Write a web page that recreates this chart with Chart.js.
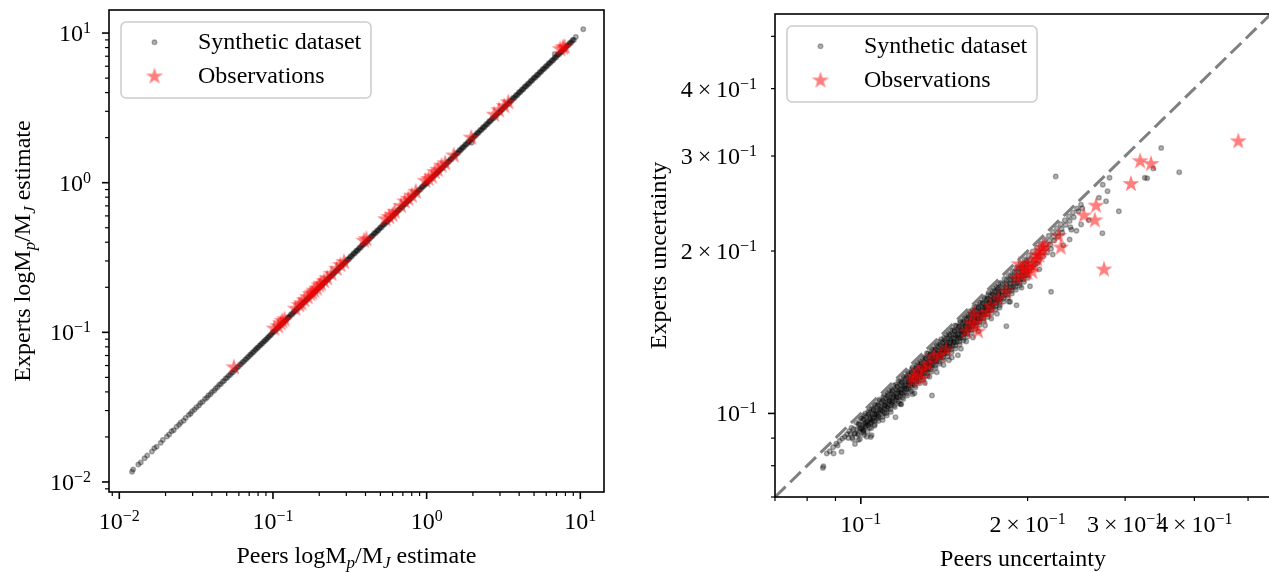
<!DOCTYPE html>
<html>
<head>
<meta charset="utf-8">
<script src="https://cdn.jsdelivr.net/npm/chart.js@4.4.1/dist/chart.umd.min.js"></script>
<style>
html,body{margin:0;padding:0;background:#fff;overflow:hidden;width:1269px;height:572px;}
canvas{position:absolute;top:0;}
#left{left:0;}
#right{left:640px;}
</style>
</head>
<body>
<canvas id="left" width="620" height="572"></canvas>
<canvas id="right" width="631" height="572"></canvas>
<script>
const FONT = 'Liberation Serif';

// ---- left panel: log Mp/MJ estimates ----
const massRange = [0.00857, 14.26];
const massMajorTicks = [0.01, 0.1, 1, 10];
const massMajorLabels = ['10^−2', '10^−1', '10^0', '10^1'];
const massMinorTicks = [0.009, 0.02, 0.03, 0.04, 0.05, 0.06, 0.07, 0.08, 0.09,
  0.2, 0.3, 0.4, 0.5, 0.6, 0.7, 0.8, 0.9, 2, 3, 4, 5, 6, 7, 8, 9];

const synthMass = [
[0.0121,0.0117],[0.0123,0.0121],[0.0133,0.0131],[0.0138,0.0135],[0.0146,0.0144],[0.0152,0.0150],[0.0163,0.0160],[0.0169,0.0168],
[0.0175,0.0172],[0.0186,0.0183],[0.0192,0.0191],[0.0204,0.0201],[0.0211,0.0208],[0.0219,0.0218],[0.0226,0.0222],[0.0236,0.0234],
[0.0245,0.0241],[0.0251,0.0250],[0.0262,0.0257],[0.0270,0.0268],[0.0283,0.0280],[0.0291,0.0286],[0.0298,0.0297],[0.0309,0.0305],
[0.0318,0.0316],[0.0330,0.0325],[0.0338,0.0337],[0.0349,0.0344],[0.0361,0.0358],[0.0372,0.0366],[0.0380,0.0379],[0.0392,0.0386],
[0.0401,0.0399],[0.0415,0.0409],[0.0424,0.0422],[0.0436,0.0431],[0.0447,0.0446],[0.0458,0.0452],[0.0470,0.0468],[0.0481,0.0475],
[0.0492,0.0491],[0.0503,0.0497],[0.0515,0.0513],[0.0527,0.0520],[0.0536,0.0535],[0.0549,0.0542],[0.0561,0.0559],[0.0572,0.0566],
[0.0585,0.0583],[0.0597,0.0590],[0.0609,0.0607],[0.0622,0.0614],[0.0633,0.0632],[0.0647,0.0639],[0.0659,0.0657],[0.0672,0.0664],
[0.0684,0.0682],[0.0697,0.0690],[0.0710,0.0708],[0.0722,0.0714],[0.0735,0.0733],[0.0748,0.0740],[0.0762,0.0760],[0.0775,0.0767],
[0.0787,0.0785],[0.0801,0.0792],[0.0815,0.0813],[0.0829,0.0820],[0.0842,0.0840],[0.0856,0.0847],[0.0870,0.0868],[0.0885,0.0876],
[0.0899,0.0897],[0.0914,0.0904],[0.0928,0.0926],[0.0943,0.0934],[0.0958,0.0956],[0.0973,0.0963],[0.0988,0.0986],
[0.1000,0.1008],[0.1016,0.1004],[0.1032,0.1030],[0.1050,0.1058],[0.1067,0.1054],[0.1084,0.1081],[0.1100,0.1109],[0.1118,0.1104],
[0.1135,0.1133],[0.1150,0.1159],[0.1168,0.1155],[0.1187,0.1184],[0.1200,0.1210],[0.1219,0.1205],[0.1238,0.1236],[0.1250,0.1260],
[0.1270,0.1255],[0.1290,0.1287],[0.1310,0.1320],[0.1331,0.1315],[0.1352,0.1349],[0.1370,0.1381],[0.1392,0.1375],[0.1414,0.1411],
[0.1430,0.1441],[0.1453,0.1436],[0.1476,0.1473],[0.1500,0.1512],[0.1524,0.1506],[0.1548,0.1545],[0.1570,0.1583],[0.1595,0.1576],
[0.1620,0.1617],[0.1640,0.1653],[0.1666,0.1647],[0.1692,0.1689],[0.1710,0.1724],[0.1737,0.1717],[0.1765,0.1761],[0.1790,0.1804],
[0.1819,0.1797],[0.1847,0.1844],[0.1870,0.1885],[0.1900,0.1877],[0.1930,0.1926],[0.1960,0.1976],[0.1991,0.1968],[0.2023,0.2019],
[0.2050,0.2066],[0.2083,0.2058],[0.2116,0.2112],[0.2140,0.2157],[0.2174,0.2149],[0.2208,0.2204],[0.2240,0.2258],[0.2276,0.2249],
[0.2312,0.2307],[0.2340,0.2359],[0.2377,0.2349],[0.2415,0.2410],[0.2450,0.2470],[0.2489,0.2460],[0.2528,0.2524],[0.2560,0.2580],
[0.2601,0.2570],[0.2642,0.2637],[0.2680,0.2701],[0.2723,0.2691],[0.2766,0.2760],[0.2800,0.2822],[0.2845,0.2811],[0.2890,0.2884],
[0.2930,0.2953],[0.2977,0.2942],[0.3024,0.3018],[0.3060,0.3084],[0.3109,0.3072],[0.3158,0.3152],[0.3200,0.3226],[0.3251,0.3213],
[0.3302,0.3296],[0.3350,0.3377],[0.3404,0.3363],[0.3457,0.3451],[0.3500,0.3528],[0.3556,0.3514],[0.3612,0.3605],[0.3660,0.3689],
[0.3719,0.3675],[0.3777,0.3770],[0.3830,0.3861],[0.3891,0.3845],[0.3953,0.3945],[0.4000,0.4032],[0.4064,0.4016],[0.4128,0.4120],
[0.4180,0.4213],[0.4247,0.4197],[0.4314,0.4305],[0.4370,0.4405],[0.4440,0.4387],[0.4510,0.4501],[0.4570,0.4607],[0.4643,0.4588],
[0.4716,0.4707],[0.4780,0.4818],[0.4856,0.4799],[0.4933,0.4923],[0.5000,0.5040],[0.5080,0.5020],[0.5160,0.5150],[0.5230,0.5272],
[0.5314,0.5251],[0.5397,0.5387],[0.5470,0.5514],[0.5558,0.5492],[0.5645,0.5634],[0.5720,0.5766],[0.5812,0.5743],[0.5903,0.5892],
[0.5980,0.6028],[0.6076,0.6004],[0.6171,0.6159],[0.6250,0.6300],[0.6350,0.6275],[0.6450,0.6438],[0.6540,0.6592],[0.6645,0.6566],
[0.6749,0.6736],[0.6840,0.6895],[0.6949,0.6867],[0.7059,0.7045],[0.7150,0.7207],[0.7264,0.7179],[0.7379,0.7365],[0.7480,0.7540],
[0.7600,0.7510],[0.7719,0.7704],[0.7820,0.7883],[0.7945,0.7851],[0.8070,0.8055],[0.8180,0.8245],[0.8311,0.8213],[0.8442,0.8425],
[0.8550,0.8618],[0.8687,0.8584],[0.8824,0.8807],[0.8940,0.9012],[0.9083,0.8976],[0.9226,0.9208],[0.9350,0.9425],[0.9500,0.9387],
[0.9649,0.9631],[0.9780,0.9858],[0.9936,0.9819],
[1.000,1.008],[1.016,1.004],[1.032,1.030],[1.050,1.058],[1.067,1.054],[1.084,1.081],[1.100,1.109],[1.118,1.104],
[1.135,1.133],[1.150,1.159],[1.168,1.155],[1.187,1.184],[1.200,1.210],[1.219,1.205],[1.238,1.236],[1.250,1.260],
[1.270,1.255],[1.290,1.287],[1.310,1.320],[1.331,1.315],[1.352,1.349],[1.370,1.381],[1.392,1.375],[1.414,1.411],
[1.430,1.441],[1.453,1.436],[1.476,1.473],[1.500,1.512],[1.524,1.506],[1.548,1.545],[1.570,1.583],[1.595,1.576],
[1.620,1.617],[1.640,1.653],[1.666,1.647],[1.692,1.689],[1.710,1.724],[1.737,1.717],[1.765,1.761],[1.790,1.804],
[1.819,1.797],[1.847,1.844],[1.870,1.885],[1.900,1.877],[1.930,1.926],[1.960,1.976],[1.991,1.968],[2.023,2.019],
[2.050,2.066],[2.083,2.058],[2.116,2.112],[2.140,2.157],[2.174,2.149],[2.208,2.204],[2.240,2.258],[2.276,2.249],
[2.312,2.307],[2.340,2.359],[2.377,2.349],[2.415,2.410],[2.450,2.470],[2.489,2.460],[2.528,2.524],[2.560,2.580],
[2.601,2.570],[2.642,2.637],[2.680,2.701],[2.723,2.691],[2.766,2.760],[2.800,2.822],[2.845,2.811],[2.890,2.884],
[2.930,2.953],[2.977,2.942],[3.024,3.018],[3.060,3.084],[3.109,3.072],[3.158,3.152],[3.200,3.226],[3.251,3.213],
[3.302,3.296],[3.350,3.377],[3.404,3.363],[3.457,3.451],[3.500,3.528],[3.556,3.514],[3.612,3.605],[3.660,3.689],
[3.719,3.675],[3.777,3.770],[3.830,3.861],[3.891,3.845],[3.953,3.945],[4.000,4.032],[4.064,4.016],[4.128,4.120],
[4.180,4.213],[4.247,4.197],[4.314,4.305],[4.370,4.405],[4.440,4.387],[4.510,4.501],[4.570,4.607],[4.643,4.588],
[4.716,4.707],[4.780,4.818],[4.856,4.799],[4.933,4.923],[5.000,5.040],[5.080,5.020],[5.160,5.150],[5.230,5.272],
[5.314,5.251],[5.397,5.387],[5.470,5.514],[5.558,5.492],[5.645,5.634],[5.720,5.766],[5.812,5.743],[5.903,5.892],
[5.980,6.028],[6.076,6.004],[6.171,6.159],[6.250,6.300],[6.350,6.275],[6.450,6.438],[6.540,6.592],[6.645,6.566],
[6.749,6.736],[6.840,6.895],[6.949,6.867],[7.059,7.045],[7.150,7.207],[7.264,7.179],[7.379,7.365],[7.480,7.540],
[7.600,7.510],[7.719,7.704],[7.820,7.883],[7.945,7.851],[8.070,8.055],[8.180,8.245],[8.311,8.213],[8.442,8.425],
[8.550,8.618],[8.687,8.584],[8.824,8.807],[8.940,9.012],[9.083,8.976],[9.350,9.430],[6.820,7.250],[1.960,1.850],
[10.45,10.62]
];

const obsMass = [
[0.0557,0.0584],
[0.1020,0.1060],[0.1080,0.1100],[0.1120,0.1150],[0.1150,0.1190],[0.1190,0.1220],
[0.1400,0.1440],[0.1480,0.1520],[0.1530,0.1560],[0.1600,0.1640],[0.1680,0.1720],[0.1750,0.1800],[0.1800,0.1840],
[0.1850,0.1900],[0.1930,0.1960],[0.2000,0.2060],[0.2050,0.2110],[0.2150,0.2200],[0.2250,0.2300],[0.2400,0.2460],
[0.2600,0.2660],[0.2750,0.2820],[0.2900,0.2950],
[0.3900,0.4100],[0.4050,0.4200],
[0.5400,0.5700],[0.5700,0.5900],[0.6000,0.6100],[0.6200,0.6400],
[0.6800,0.7000],[0.7200,0.7500],[0.7600,0.7800],[0.8000,0.8200],[0.8500,0.8700],
[0.9800,1.0300],[1.0300,1.0600],[1.0800,1.1000],[1.1300,1.1800],[1.1800,1.2200],[1.2500,1.3000],[1.3200,1.3500],[1.5000,1.5200],
[1.9500,2.0000],
[2.7500,2.8500],[2.9500,3.0500],[3.2000,3.2500],[3.4000,3.4500],
[7.4000,7.8000],[7.7000,8.0000],[7.9000,8.1000]
];

// ---- right panel: uncertainties ----
const uncRange = [0.07, 0.55];
const uncMajorTicks = [0.1];
const uncLabelTicks = [0.1, 0.2, 0.3, 0.4];
const uncLabels = ['10^−1', '2\u2009×\u200910^−1', '3\u2009×\u200910^−1', '4\u2009×\u200910^−1'];
const uncMinorTicks = [0.07, 0.08, 0.09, 0.2, 0.3, 0.4, 0.5];
const diagonal = [0.07, 0.55];

const synthUnc = [
[0.0854,0.0792],[0.0856,0.0798],[0.0893,0.0843],[0.0923,0.0849],[0.0868,0.0843],[0.0879,0.0851],[0.0891,0.0866],[0.0903,0.0879],
[0.0908,0.0872],[0.0916,0.0890],[0.0926,0.0899],[0.0935,0.0905],[0.0944,0.0915],[0.0953,0.0927],[0.0949,0.0900],
[0.0962,0.0941],[0.0958,0.0918],[0.0965,0.0902],
[0.0981,0.0962],[0.0984,0.0935],[0.0977,0.0918],[0.0989,0.0893],
[0.1002,0.0981],[0.0998,0.0953],[0.1006,0.0939],[0.1010,0.0921],
[0.1014,0.0991],[0.1018,0.0962],[0.1021,0.0948],[0.1012,0.0927],[0.1025,0.0905],
[0.1031,0.1007],[0.1035,0.0985],[0.1028,0.0965],[0.1040,0.0958],[0.1037,0.0941],
[0.1046,0.1022],[0.1049,0.0998],[0.1052,0.0981],[0.1044,0.0962],[0.1058,0.0949],
[0.1061,0.1037],[0.1065,0.1012],[0.1068,0.0999],[0.1072,0.0978],[0.1060,0.0968],
[0.1079,0.1055],[0.1083,0.1031],[0.1087,0.1017],[0.1091,0.0996],[0.1076,0.0985],[0.1095,0.0972],
[0.1098,0.1073],[0.1102,0.1050],[0.1106,0.1035],[0.1110,0.1016],[0.1104,0.1003],[0.1114,0.0991],
[0.1117,0.1092],[0.1121,0.1068],[0.1126,0.1054],[0.1129,0.1034],[0.1119,0.1022],[0.1133,0.1006],
[0.1136,0.1110],[0.1140,0.1087],[0.1145,0.1071],[0.1149,0.1052],[0.1138,0.1039],[0.1152,0.1028],
[0.1156,0.1130],[0.1160,0.1105],[0.1165,0.1091],[0.1169,0.1070],[0.1158,0.1059],[0.1173,0.1043],
[0.1176,0.1149],[0.1180,0.1125],[0.1185,0.1109],[0.1189,0.1089],[0.1178,0.1076],[0.1193,0.1063],[0.1183,0.1040],
[0.1196,0.1169],[0.1200,0.1144],[0.1205,0.1128],[0.1209,0.1107],[0.1198,0.1094],[0.1213,0.1079],
[0.1216,0.1188],[0.1221,0.1164],[0.1226,0.1148],[0.1230,0.1126],[0.1219,0.1112],[0.1234,0.1098],[0.1240,0.1085],
[0.1237,0.1209],[0.1242,0.1184],[0.1247,0.1167],[0.1251,0.1145],[0.1240,0.1132],[0.1255,0.1118],
[0.1258,0.1229],[0.1263,0.1204],[0.1268,0.1187],[0.1272,0.1165],[0.1261,0.1151],[0.1277,0.1137],
[0.1279,0.1250],[0.1284,0.1224],[0.1289,0.1206],[0.1294,0.1184],[0.1283,0.1171],[0.1298,0.1156],[0.1305,0.1139],
[0.1301,0.1271],[0.1306,0.1245],[0.1311,0.1227],[0.1316,0.1204],[0.1304,0.1190],[0.1320,0.1175],
[0.1323,0.1293],[0.1328,0.1266],[0.1333,0.1248],[0.1338,0.1225],[0.1326,0.1210],[0.1342,0.1195],
[0.1345,0.1314],[0.1350,0.1287],[0.1355,0.1268],[0.1360,0.1245],[0.1348,0.1231],[0.1365,0.1215],[0.1371,0.1192],
[0.1368,0.1337],[0.1373,0.1309],[0.1378,0.1290],[0.1383,0.1266],[0.1371,0.1251],[0.1388,0.1236],
[0.1391,0.1359],[0.1396,0.1331],[0.1401,0.1311],[0.1406,0.1287],[0.1394,0.1272],[0.1411,0.1256],
[0.1414,0.1382],[0.1419,0.1353],[0.1424,0.1333],[0.1429,0.1308],[0.1417,0.1293],[0.1434,0.1277],[0.1442,0.1255],
[0.1438,0.1405],[0.1443,0.1376],[0.1448,0.1355],[0.1453,0.1330],[0.1441,0.1315],[0.1459,0.1298],
[0.1462,0.1429],[0.1467,0.1399],[0.1472,0.1378],[0.1477,0.1352],[0.1465,0.1337],[0.1483,0.1320],
[0.1487,0.1453],[0.1492,0.1423],[0.1497,0.1401],[0.1502,0.1375],[0.1490,0.1360],[0.1508,0.1342],[0.1516,0.1318],
[0.1512,0.1477],[0.1517,0.1447],[0.1522,0.1424],[0.1527,0.1398],[0.1515,0.1383],[0.1533,0.1365],
[0.1537,0.1502],[0.1542,0.1471],[0.1548,0.1449],[0.1553,0.1422],[0.1540,0.1406],[0.1559,0.1388],
[0.1563,0.1527],[0.1568,0.1496],[0.1574,0.1473],[0.1579,0.1446],[0.1566,0.1430],[0.1585,0.1411],[0.1594,0.1383],
[0.1589,0.1553],[0.1595,0.1521],[0.1600,0.1498],[0.1606,0.1470],[0.1592,0.1454],[0.1612,0.1435],
[0.1616,0.1579],[0.1621,0.1546],[0.1627,0.1523],[0.1633,0.1495],[0.1619,0.1478],[0.1639,0.1459],
[0.1643,0.1606],[0.1649,0.1573],[0.1654,0.1548],[0.1660,0.1520],[0.1646,0.1503],[0.1667,0.1484],[0.1676,0.1455],
[0.1671,0.1633],[0.1677,0.1599],[0.1682,0.1574],[0.1688,0.1546],[0.1674,0.1528],[0.1695,0.1509],
[0.1699,0.1660],[0.1705,0.1626],[0.1711,0.1601],[0.1717,0.1572],[0.1702,0.1554],[0.1723,0.1534],
[0.1728,0.1688],[0.1734,0.1654],[0.1740,0.1628],[0.1746,0.1598],[0.1731,0.1580],[0.1752,0.1560],[0.1761,0.1530],
[0.1757,0.1717],[0.1763,0.1682],[0.1769,0.1655],[0.1775,0.1625],[0.1760,0.1607],[0.1782,0.1586],
[0.1787,0.1746],[0.1793,0.1710],[0.1799,0.1683],[0.1805,0.1653],[0.1790,0.1634],[0.1812,0.1613],
[0.1817,0.1776],[0.1823,0.1739],[0.1829,0.1712],[0.1836,0.1681],[0.1820,0.1662],[0.1843,0.1640],[0.1851,0.1611],
[0.1848,0.1806],[0.1854,0.1769],[0.1860,0.1741],[0.1867,0.1709],[0.1851,0.1690],[0.1874,0.1668],
[0.1879,0.1836],[0.1885,0.1798],[0.1892,0.1770],[0.1898,0.1738],[0.1882,0.1718],[0.1905,0.1696],
[0.1911,0.1867],[0.1917,0.1829],[0.1924,0.1800],[0.1930,0.1767],[0.1914,0.1747],[0.1937,0.1724],
[0.1943,0.1899],[0.1949,0.1859],[0.1956,0.1830],[0.1962,0.1797],[0.1946,0.1776],[0.1970,0.1753],
[0.1976,0.1931],[0.1982,0.1891],[0.1989,0.1861],[0.1995,0.1827],[0.1979,0.1806],[0.2003,0.1783],
[0.2009,0.1963],[0.2016,0.1923],[0.2022,0.1892],[0.2029,0.1858],[0.2012,0.1836],
[0.2043,0.1996],[0.2050,0.1955],[0.2056,0.1924],[0.2063,0.1889],[0.2046,0.1867],
[0.2078,0.2030],[0.2084,0.1988],[0.2091,0.1957],[0.2098,0.1921],[0.2081,0.1898],
[0.2113,0.2064],[0.2119,0.2022],[0.2126,0.1990],[0.2133,0.1953],
[0.2148,0.2099],[0.2155,0.2056],[0.2162,0.2023],[0.2169,0.1986],
[0.2184,0.2134],[0.2191,0.2090],[0.2198,0.2057],[0.2205,0.2019],
[0.2221,0.2170],[0.2228,0.2125],[0.2235,0.2092],
[0.2258,0.2206],[0.2266,0.2161],[0.2273,0.2127],
[0.2296,0.2243],[0.2304,0.2198],[0.2311,0.2163],
[0.2335,0.2281],[0.2343,0.2235],[0.2374,0.2319],[0.2382,0.2273],[0.2390,0.2214],
[0.2414,0.2358],[0.2423,0.2311],[0.2455,0.2397],[0.2470,0.2370],[0.2497,0.2437],[0.2510,0.2400],
[0.0970,0.0936],[0.0974,0.0917],[0.0967,0.0897],[0.0976,0.0878],
[0.0990,0.0955],[0.0994,0.0936],[0.0987,0.0916],[0.0996,0.0896],
[0.1008,0.0973],[0.1012,0.0953],[0.1005,0.0932],[0.1014,0.0912],
[0.1022,0.0986],[0.1026,0.0966],[0.1019,0.0945],[0.1028,0.0925],
[0.1038,0.1002],[0.1042,0.0981],[0.1035,0.0960],[0.1044,0.0939],
[0.1054,0.1017],[0.1058,0.0996],[0.1051,0.0975],[0.1060,0.0954],
[0.1070,0.1033],[0.1074,0.1011],[0.1067,0.0990],[0.1076,0.0968],
[0.1088,0.1050],[0.1092,0.1028],[0.1085,0.1006],[0.1094,0.0985],
[0.1106,0.1067],[0.1110,0.1045],[0.1103,0.1023],[0.1112,0.1001],
[0.1124,0.1085],[0.1128,0.1062],[0.1121,0.1040],[0.1130,0.1017],
[0.1142,0.1102],[0.1146,0.1079],[0.1139,0.1056],[0.1148,0.1034],
[0.1162,0.1121],[0.1166,0.1098],[0.1159,0.1075],[0.1168,0.1052],
[0.1182,0.1141],[0.1186,0.1117],[0.1179,0.1093],[0.1188,0.1070],
[0.1202,0.1160],[0.1206,0.1136],[0.1199,0.1112],[0.1208,0.1088],
[0.1222,0.1179],[0.1226,0.1155],[0.1219,0.1130],[0.1228,0.1106],
[0.1244,0.1200],[0.1248,0.1176],[0.1241,0.1151],[0.1250,0.1126],
[0.1266,0.1222],[0.1270,0.1196],[0.1263,0.1171],[0.1272,0.1146],
[0.1288,0.1243],[0.1292,0.1217],[0.1285,0.1191],[0.1294,0.1166],
[0.1310,0.1264],[0.1314,0.1238],[0.1307,0.1212],[0.1316,0.1186],
[0.1332,0.1285],[0.1336,0.1259],[0.1329,0.1232],[0.1338,0.1205],
[0.1355,0.1308],[0.1359,0.1280],[0.1352,0.1253],[0.1361,0.1226],
[0.1378,0.1330],[0.1382,0.1302],[0.1375,0.1275],[0.1384,0.1247],
[0.1402,0.1353],[0.1406,0.1325],[0.1399,0.1297],[0.1408,0.1269],
[0.1426,0.1376],[0.1430,0.1348],[0.1423,0.1319],[0.1432,0.1291],
[0.1450,0.1399],[0.1454,0.1370],[0.1447,0.1341],[0.1456,0.1312],
[0.1475,0.1423],[0.1479,0.1394],[0.1472,0.1364],[0.1481,0.1335],
[0.1500,0.1448],[0.1504,0.1418],[0.1497,0.1388],[0.1506,0.1358],
[0.1525,0.1472],[0.1529,0.1441],[0.1522,0.1411],[0.1531,0.1380],
[0.1551,0.1497],[0.1555,0.1466],[0.1548,0.1435],[0.1557,0.1404],
[0.1577,0.1522],[0.1581,0.1490],[0.1574,0.1459],[0.1583,0.1427],
[0.1604,0.1548],[0.1608,0.1516],[0.1601,0.1484],[0.1610,0.1452],
[0.1631,0.1574],[0.1635,0.1541],[0.1628,0.1509],[0.1637,0.1476],
[0.1658,0.1600],[0.1662,0.1567],[0.1655,0.1534],[0.1664,0.1500],
[0.1686,0.1627],[0.1690,0.1593],[0.1683,0.1560],[0.1692,0.1526],
[0.1714,0.1654],[0.1718,0.1620],[0.1711,0.1585],[0.1720,0.1551],
[0.1743,0.1682],[0.1747,0.1647],[0.1740,0.1612],[0.1749,0.1577],
[0.1772,0.1710],[0.1776,0.1675],[0.1769,0.1639],[0.1778,0.1604],
[0.1802,0.1739],[0.1806,0.1703],[0.1799,0.1667],[0.1808,0.1631],
[0.1832,0.1768],[0.1836,0.1731],[0.1829,0.1695],[0.1838,0.1658],
[0.1863,0.1798],[0.1867,0.1761],[0.1860,0.1723],[0.1869,0.1686],
[0.1894,0.1828],[0.1898,0.1790],[0.1891,0.1752],[0.1900,0.1714],
[0.1926,0.1859],[0.1930,0.1820],[0.1923,0.1782],[0.1932,0.1743],
[0.1958,0.1889],[0.1962,0.1850],[0.1955,0.1811],[0.1964,0.1772],
[0.1991,0.1921],[0.1995,0.1881],[0.1988,0.1842],[0.1997,0.1802],
[0.0998,0.0980],[0.0993,0.0957],[0.1000,0.0937],[0.0991,0.0913],
[0.1018,0.1000],[0.1013,0.0976],[0.1020,0.0956],[0.1011,0.0932],
[0.1038,0.1019],[0.1033,0.0996],[0.1040,0.0975],[0.1031,0.0950],
[0.1059,0.1040],[0.1054,0.1016],[0.1061,0.0995],[0.1052,0.0969],
[0.1080,0.1061],[0.1075,0.1036],[0.1082,0.1015],[0.1073,0.0989],
[0.1102,0.1083],[0.1097,0.1057],[0.1104,0.1035],[0.1095,0.1009],
[0.1124,0.1104],[0.1119,0.1078],[0.1126,0.1056],[0.1117,0.1029],
[0.1146,0.1126],[0.1141,0.1100],[0.1148,0.1077],[0.1139,0.1049],
[0.1169,0.1149],[0.1164,0.1122],[0.1171,0.1098],[0.1162,0.1070],
[0.1192,0.1171],[0.1187,0.1144],[0.1194,0.1120],[0.1185,0.1092],
[0.1216,0.1195],[0.1211,0.1167],[0.1218,0.1143],[0.1209,0.1114],
[0.1240,0.1218],[0.1235,0.1190],[0.1242,0.1165],[0.1233,0.1136],
[0.1265,0.1243],[0.1260,0.1214],[0.1267,0.1189],[0.1258,0.1159],
[0.1290,0.1268],[0.1285,0.1238],[0.1292,0.1212],[0.1283,0.1181],
[0.1316,0.1293],[0.1311,0.1263],[0.1318,0.1237],[0.1309,0.1205],
[0.1342,0.1319],[0.1337,0.1288],[0.1344,0.1261],[0.1335,0.1229],
[0.1369,0.1346],[0.1364,0.1314],[0.1371,0.1287],[0.1362,0.1254],
[0.1396,0.1372],[0.1391,0.1340],[0.1398,0.1312],[0.1389,0.1279],
[0.1424,0.1400],[0.1419,0.1367],[0.1426,0.1339],[0.1417,0.1304],
[0.1452,0.1427],[0.1447,0.1394],[0.1454,0.1365],[0.1445,0.1330],
[0.1481,0.1456],[0.1476,0.1422],[0.1483,0.1392],[0.1474,0.1357],
[0.1511,0.1485],[0.1506,0.1451],[0.1513,0.1421],[0.1504,0.1384],
[0.1541,0.1515],[0.1536,0.1480],[0.1543,0.1449],[0.1534,0.1412],
[0.1572,0.1545],[0.1567,0.1509],[0.1574,0.1478],[0.1565,0.1440],
[0.1603,0.1576],[0.1598,0.1539],[0.1605,0.1507],[0.1596,0.1469],
[0.1635,0.1608],[0.1630,0.1570],[0.1637,0.1537],[0.1628,0.1498],
[0.1668,0.1640],[0.1663,0.1602],[0.1670,0.1568],[0.1661,0.1528],
[0.1701,0.1673],[0.1696,0.1633],[0.1703,0.1600],[0.1694,0.1559],
[0.1735,0.1706],[0.1730,0.1666],[0.1737,0.1632],[0.1728,0.1590],
[0.1770,0.1740],[0.1765,0.1700],[0.1772,0.1665],[0.1763,0.1622],
[0.1042,0.0904],[0.1046,0.0911],[0.1155,0.0984],[0.1344,0.1080],[0.1497,0.1282],[0.1831,0.1451],[0.2205,0.1680],
[0.2729,0.2158],[0.2922,0.2369],[0.3756,0.2800],[0.3485,0.3104],[0.2248,0.2750],[0.3255,0.2733],[0.3372,0.2844],
[0.2811,0.2733],[0.2733,0.2655],[0.2788,0.2582],[0.2690,0.2510],[0.2771,0.2474],[0.1910,0.1586],[0.2020,0.1720],
[0.2399,0.2191],[0.2382,0.2101],[0.2498,0.2240],[0.3288,0.2729],
[0.1180,0.1040],[0.1250,0.1090],[0.1330,0.1170],[0.1410,0.1230],[0.1460,0.1270],[0.1550,0.1360],[0.1630,0.1420],
[0.1720,0.1500],[0.1780,0.1570],[0.1860,0.1610],[0.1950,0.1710],[0.2100,0.1850],[0.2220,0.1970],[0.2320,0.2050],
[0.2450,0.2180],[0.2580,0.2280]
];

const obsUnc = [
[0.4801,0.3195],[0.3193,0.2934],[0.3341,0.2901],[0.3073,0.2663],[0.2748,0.1848],[0.2658,0.2427],[0.2527,0.2327],
[0.2645,0.2280],[0.2275,0.2133],[0.2295,0.2030],[0.2128,0.2030],[0.2075,0.1966],
[0.1930,0.1890],[0.1960,0.1850],[0.1990,0.1870],[0.2020,0.1900],[0.2050,0.1880],[0.2080,0.1930],[0.2100,0.1960],
[0.1950,0.1800],[0.2000,0.1820],[0.2040,0.1830],[0.1910,0.1780],[0.2120,0.2000],[0.2150,0.2050],
[0.1831,0.1683],[0.1771,0.1632],[0.1713,0.1582],[0.1656,0.1509],[0.1602,0.1464],[0.1628,0.1419],[0.1549,0.1419],
[0.1580,0.1470],[0.1600,0.1530],[0.1690,0.1540],
[0.1355,0.1272],[0.1322,0.1233],[0.1268,0.1196],[0.1247,0.1168],[0.1289,0.1159],[0.1390,0.1282],[0.1426,0.1313],
[0.1300,0.1210],[0.1240,0.1150]
];

// ---- helpers ----
function makeStar(R, color) {
  const c = document.createElement('canvas');
  const s = Math.ceil(R * 2 + 4);
  c.width = s; c.height = s;
  const g = c.getContext('2d');
  g.translate(s / 2, s / 2);
  g.beginPath();
  for (let i = 0; i < 10; i++) {
    const r = i % 2 ? R * 0.381966 : R;
    const a = -Math.PI / 2 + i * Math.PI / 5;
    g.lineTo(r * Math.cos(a), r * Math.sin(a));
  }
  g.closePath();
  g.fillStyle = color;
  g.fill();
  return c;
}
const star = makeStar(9, 'rgba(255,0,0,0.5)');
const DOT = 'rgba(0,0,0,0.3)';

const pts = arr => arr.map(([x, y]) => ({x, y}));

function logAxis(range, major, minor, size, horizontal, title) {
  const all = major.map(v => ({value: v, major: true}))
    .concat(minor.map(v => ({value: v, major: false})))
    .sort((a, b) => a.value - b.value);
  return {
    type: 'logarithmic',
    position: horizontal ? 'bottom' : 'left',
    min: range[0], max: range[1],
    grid: {display: false, drawTicks: false},
    border: {display: false},
    title: title || {display: false},
    afterBuildTicks: s => { s.ticks = all.map(t => ({value: t.value, major: t.major})); },
    afterFit: s => {
      if (horizontal) s.height = size; else s.width = size;
      s.paddingLeft = 0; s.paddingRight = 0; s.paddingTop = 0; s.paddingBottom = 0;
    },
    ticks: {display: false, autoSkip: false, maxRotation: 0}
  };
}

// "10^−1" style label: base text plus a smaller raised exponent
function mathLabel(ctx, text, x, y, align) {
  const [base, sup] = text.split('^');
  const big = '24px "' + FONT + '"', small = '16px "' + FONT + '"';
  ctx.font = big; const wb = ctx.measureText(base).width;
  ctx.font = small; const ws = sup ? ctx.measureText(sup).width : 0;
  const x0 = align === 'right' ? x - wb - ws : x - (wb + ws) / 2;
  ctx.textAlign = 'left';
  ctx.textBaseline = 'alphabetic';
  ctx.font = big; ctx.fillText(base, x0, y);
  if (sup) { ctx.font = small; ctx.fillText(sup, x0 + wb, y - 8); }
}

function richText(ctx, segs, x, y, rot) {
  const big = '24px "' + FONT + '"', small = 'italic 17px "' + FONT + '"';
  let w = 0;
  segs.forEach(([t, sub]) => { ctx.font = sub ? small : big; w += ctx.measureText(t).width; });
  ctx.save();
  ctx.translate(x, y);
  ctx.rotate(rot);
  ctx.textBaseline = 'alphabetic';
  ctx.textAlign = 'left';
  let cx = -w / 2;
  segs.forEach(([t, sub]) => {
    ctx.font = sub ? small : big;
    ctx.fillText(t, cx, sub ? 5 : 0);
    cx += ctx.measureText(t).width;
  });
  ctx.restore();
}

function decor(cfg) {
  return {
    id: 'decor',
    afterDraw(chart) {
      const ctx = chart.ctx, ca = chart.chartArea;
      ctx.save();
      ctx.strokeStyle = '#000';
      ctx.fillStyle = '#000';
      ['x', 'y'].forEach(id => {
        const s = chart.scales[id];
        s.ticks.forEach(t => {
          const p = s.getPixelForValue(t.value);
          const len = t.major ? 7 : 4;
          ctx.lineWidth = t.major ? 1.6 : 1.2;
          ctx.beginPath();
          if (id === 'x') { ctx.moveTo(p, ca.bottom); ctx.lineTo(p, ca.bottom + len); }
          else { ctx.moveTo(ca.left, p); ctx.lineTo(ca.left - len, p); }
          ctx.stroke();
        });
        cfg.labelVals.forEach((v, i) => {
          const p = s.getPixelForValue(v);
          if (id === 'x') mathLabel(ctx, cfg.labels[i], p, ca.bottom + cfg.xLabelGap, 'center');
          else mathLabel(ctx, cfg.labels[i], ca.left - 18, p + 8, 'right');
        });
      });
      ctx.lineWidth = 1.6;
      ctx.strokeRect(ca.left, ca.top, ca.right - ca.left, ca.bottom - ca.top);

      // legend
      const bx = ca.left + 12, by = ca.top + 12, bw = 250, bh = 76;
      ctx.beginPath();
      ctx.roundRect(bx, by, bw, bh, 5);
      ctx.fillStyle = 'rgba(255,255,255,0.8)';
      ctx.fill();
      ctx.strokeStyle = '#cccccc';
      ctx.lineWidth = 1.5;
      ctx.stroke();
      const sets = chart.data.datasets.filter(d => d.label).sort((a, b) => b.order - a.order);
      ctx.font = '24px "' + FONT + '"';
      ctx.textBaseline = 'middle';
      ctx.textAlign = 'left';
      sets.forEach((d, i) => {
        const ry = by + 20.3 + i * 34.2, mx = bx + 33.5;
        if (d.pointStyle && typeof d.pointStyle === 'object') {
          ctx.drawImage(d.pointStyle, mx - d.pointStyle.width / 2, ry - d.pointStyle.height / 2);
        } else {
          ctx.beginPath();
          ctx.arc(mx, ry, d.pointRadius, 0, Math.PI * 2);
          ctx.fillStyle = d.backgroundColor;
          ctx.fill();
          ctx.lineWidth = d.borderWidth;
          ctx.strokeStyle = d.borderColor;
          ctx.stroke();
        }
        ctx.fillStyle = '#000';
        ctx.fillText(d.label, bx + 77, ry);
      });

      if (cfg.xTitle) richText(ctx, cfg.xTitle, (ca.left + ca.right) / 2, 563, 0);
      if (cfg.yTitle) richText(ctx, cfg.yTitle, 30, (ca.top + ca.bottom) / 2, -Math.PI / 2);
      ctx.restore();
    }
  };
}

function scatterSets(synth, obs) {
  return [
    {label: 'Observations', data: pts(obs), pointStyle: star, pointRadius: 9, order: 1},
    {label: 'Synthetic dataset', data: pts(synth), backgroundColor: DOT, borderColor: DOT,
      borderWidth: 1.4, pointRadius: 2.3, order: 2}
  ];
}

const common = {
  responsive: false, animation: false, events: [],
  plugins: {legend: {display: false}, tooltip: {enabled: false}}
};

new Chart(document.getElementById('left'), {
  type: 'scatter',
  data: {datasets: scatterSets(synthMass, obsMass)},
  options: Object.assign({}, common, {
    layout: {autoPadding: false, padding: {left: 0, right: 16, top: 10, bottom: 0}},
    scales: {
      x: logAxis(massRange, massMajorTicks, massMinorTicks, 80, true),
      y: logAxis(massRange, massMajorTicks, massMinorTicks, 109, false)
    }
  }),
  plugins: [decor({
    labelVals: massMajorTicks, labels: massMajorLabels, xLabelGap: 37,
    xTitle: [['Peers logM', 0], ['p', 1], ['/M', 0], ['J', 1], [' estimate', 0]],
    yTitle: [['Experts logM', 0], ['p', 1], ['/M', 0], ['J', 1], [' estimate', 0]]
  })]
});

const titleFont = {family: FONT, size: 24, lineHeight: 1};
const rightSets = scatterSets(synthUnc, obsUnc);
rightSets.push({
  type: 'line', label: '', order: 0,
  data: [{x: diagonal[0], y: diagonal[0]}, {x: diagonal[1], y: diagonal[1]}],
  borderColor: '#808080', borderWidth: 3, borderDash: [14.8, 6.4], pointRadius: 0, fill: false
});

new Chart(document.getElementById('right'), {
  type: 'scatter',
  data: {datasets: rightSets},
  options: Object.assign({}, common, {
    layout: {autoPadding: false, padding: {left: 0, right: 0, top: 14, bottom: 0}},
    scales: {
      x: logAxis(uncRange, uncMajorTicks, uncMinorTicks, 75, true,
        {display: true, text: 'Peers uncertainty', color: '#000', font: titleFont, padding: {top: 0, bottom: 0}}),
      y: logAxis(uncRange, uncMajorTicks, uncMinorTicks, 135, false,
        {display: true, text: 'Experts uncertainty', color: '#000', font: titleFont, padding: {top: 8, bottom: 0}})
    }
  }),
  plugins: [decor({labelVals: uncLabelTicks, labels: uncLabels, xLabelGap: 35})]
});
</script>
</body>
</html>
